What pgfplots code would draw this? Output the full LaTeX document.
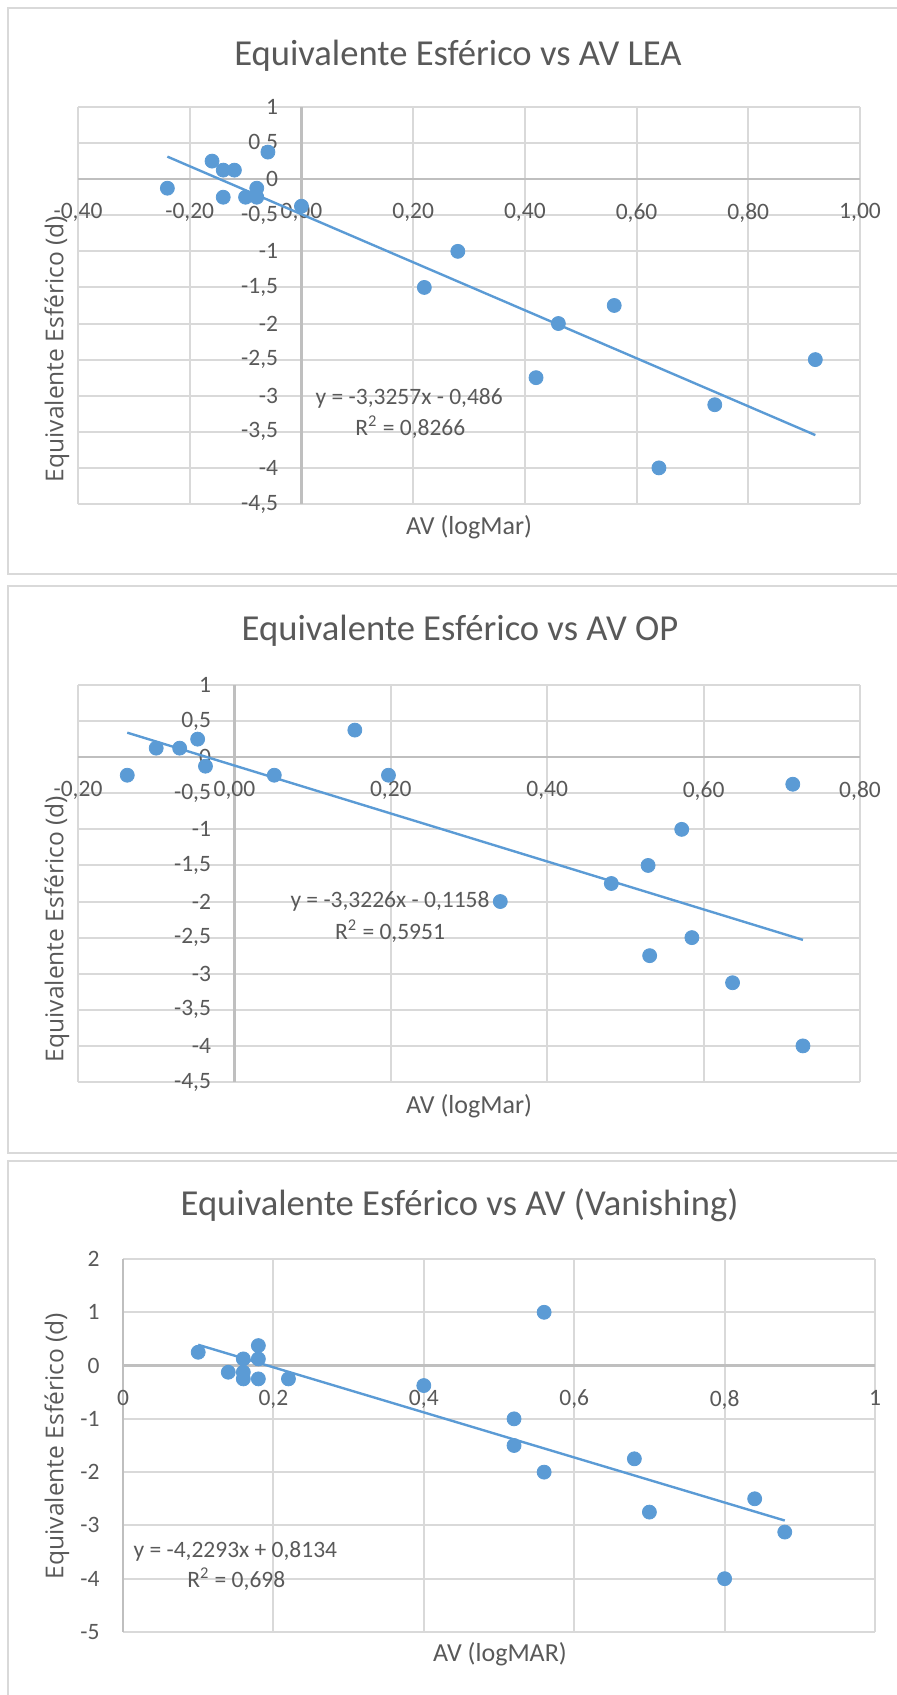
\documentclass[border=0pt]{standalone}
\usepackage{pgfplots}
\pgfplotsset{compat=1.18}
\usepackage{fontspec}
\setmainfont{Carlito}
\newfontfamily\ylabfont{Open Sans}

\definecolor{ptblue}{HTML}{5B9BD5}
\definecolor{txtgray}{HTML}{595959}
\definecolor{gridgray}{HTML}{D9D9D9}
\definecolor{axgray}{HTML}{BFBFBF}

% AV (logMAR) vs spherical equivalent (D), one table per chart
\pgfplotstableread{
x y
-0.24 -0.125
-0.16 0.25
-0.14 0.125
-0.12 0.125
-0.14 -0.25
-0.10 -0.25
-0.08 -0.125
-0.08 -0.25
-0.06 0.375
0.00 -0.375
0.22 -1.5
0.28 -1.0
0.42 -2.75
0.46 -2.0
0.56 -1.75
0.64 -4.0
0.74 -3.125
0.92 -2.5
}\lea

\pgfplotstableread{
x y
-0.137 -0.25
-0.100 0.125
-0.070 0.125
-0.047 0.25
-0.037 -0.125
0.051 -0.25
0.154 0.375
0.197 -0.25
0.340 -2.0
0.482 -1.75
0.529 -1.5
0.531 -2.75
0.572 -1.0
0.585 -2.5
0.637 -3.125
0.714 -0.375
0.727 -4.0
}\op

\pgfplotstableread{
x y
0.10 0.25
0.14 -0.125
0.16 0.125
0.16 -0.125
0.16 -0.25
0.18 0.375
0.18 0.125
0.18 -0.25
0.22 -0.25
0.40 -0.375
0.52 -1.0
0.52 -1.5
0.56 1.0
0.56 -2.0
0.68 -1.75
0.70 -2.75
0.80 -4.0
0.84 -2.5
0.88 -3.125
}\van

\pgfplotsset{
  excel/.style={
    scale only axis,
    axis lines=middle,
    axis line style={axgray, line width=1.1pt, -},
    grid=major,
    major grid style={gridgray, line width=1pt},
    major tick length=0pt,
    tick label style={font=\fontsize{11.75}{14}\selectfont, text=txtgray},
    xticklabel style={anchor=north, inner sep=0pt, yshift=-12pt},
    yticklabel style={anchor=east, inner sep=0pt, xshift=-11.5pt},
    hide obscured x ticks=false,
    hide obscured y ticks=false,
    clip=false,
  },
  pts/.style={only marks, mark=*, mark size=3.5pt,
    mark options={fill=ptblue, draw=ptblue}},
  trend/.style={no marks, ptblue, line width=1.2pt},
}
\tikzset{eqlab/.style={font=\fontsize{11.75}{14}\selectfont, text=txtgray}}

\newcommand{\charttitle}{\fontsize{18.3}{22}\selectfont}
\newcommand{\axlab}{\fontsize{13}{16}\selectfont}
\newcommand{\yaxlab}{\ylabfont\fontsize{12.3}{15}\selectfont}

\begin{document}
\begin{tikzpicture}
\useasboundingbox (0,0) rectangle (448pt,847.5pt);

% chart frames
\draw[gridgray, line width=1.25pt] (460pt,560.5pt) -- (4pt,560.5pt) -- (4pt,843.5pt) -- (460pt,843.5pt);
\draw[gridgray, line width=1.25pt] (460pt,271pt) -- (4pt,271pt) -- (4pt,554.5pt) -- (460pt,554.5pt);
\draw[gridgray, line width=1.25pt] (4pt,-5pt) -- (4pt,267pt) -- (460pt,267pt);

% ---------- LEA ----------
\begin{axis}[excel,
  at={(39pt,595.5pt)}, anchor=south west,
  width=391pt, height=198.5pt,
  xmin=-0.4, xmax=1.0, ymin=-4.5, ymax=1,
  xtick={-0.4,-0.2,0,0.2,0.4,0.6,0.8,1.0},
  xticklabels={{-0,40},{-0,20},{0,00},{0,20},{0,40},{0,60},{0,80},{1,00}},
  ytick={-4.5,-4,-3.5,-3,-2.5,-2,-1.5,-1,-0.5,0,0.5,1},
  yticklabels={{-4,5},{-4},{-3,5},{-3},{-2,5},{-2},{-1,5},{-1},{-0,5},{0},{0,5},{1}},
]
\addplot[pts] table[x=x,y=y] {\lea};
\addplot[trend] coordinates {(-0.24,0.3122) (0.92,-3.5456)};
\node[eqlab] at (axis cs:0.193,-3.04) {y = -3,3257x - 0,486};
\node[eqlab] at (axis cs:0.195,-3.44) {R\textsuperscript{2} = 0,8266};
\end{axis}

% ---------- OP ----------
\begin{axis}[excel,
  at={(39pt,306.5pt)}, anchor=south west,
  width=391pt, height=198.5pt,
  xmin=-0.2, xmax=0.8, ymin=-4.5, ymax=1,
  xtick={-0.2,0,0.2,0.4,0.6,0.8},
  xticklabels={{-0,20},{0,00},{0,20},{0,40},{0,60},{0,80}},
  ytick={-4.5,-4,-3.5,-3,-2.5,-2,-1.5,-1,-0.5,0,0.5,1},
  yticklabels={{-4,5},{-4},{-3,5},{-3},{-2,5},{-2},{-1,5},{-1},{-0,5},{0},{0,5},{1}},
]
\addplot[pts] table[x=x,y=y] {\op};
\addplot[trend] coordinates {(-0.137,0.3394) (0.727,-2.5313)};
\node[eqlab] at (axis cs:0.199,-2.0) {y = -3,3226x - 0,1158};
\node[eqlab] at (axis cs:0.199,-2.41) {R\textsuperscript{2} = 0,5951};
\end{axis}

% ---------- Vanishing ----------
\begin{axis}[excel,
  at={(61.5pt,31.5pt)}, anchor=south west,
  width=376pt, height=186.5pt,
  xmin=0, xmax=1, ymin=-5, ymax=2,
  xtick={0,0.2,0.4,0.6,0.8,1},
  xticklabels={{0},{0,2},{0,4},{0,6},{0,8},{1}},
  ytick={-5,-4,-3,-2,-1,0,1,2},
  yticklabels={{-5},{-4},{-3},{-2},{-1},{0},{1},{2}},
]
\addplot[pts] table[x=x,y=y] {\van};
\addplot[trend] coordinates {(0.10,0.3905) (0.88,-2.9084)};
\node[eqlab] at (axis cs:0.1494,-3.48) {y = -4,2293x + 0,8134};
\node[eqlab] at (axis cs:0.1506,-4.01) {R\textsuperscript{2} = 0,698};
\end{axis}

% titles and axis titles
\node[text=txtgray, font=\charttitle] at (229pt,819.5pt) {Equivalente Esférico vs AV LEA};
\node[text=txtgray, font=\charttitle] at (230pt,532pt) {Equivalente Esférico vs AV OP};
\node[text=txtgray, font=\charttitle] at (229.8pt,245pt) {Equivalente Esférico vs AV (Vanishing)};

\node[text=txtgray, font=\axlab] at (234.5pt,584pt) {AV (logMar)};
\node[text=txtgray, font=\axlab] at (234.5pt,294.5pt) {AV (logMar)};
\node[text=txtgray, font=\axlab] at (250pt,20.5pt) {AV (logMAR)};

\node[text=txtgray, font=\yaxlab, rotate=90] at (28.5pt,673pt) {Equivalente Esférico (d)};
\node[text=txtgray, font=\yaxlab, rotate=90] at (28.5pt,383pt) {Equivalente Esférico (d)};
\node[text=txtgray, font=\yaxlab, rotate=90] at (28.5pt,124.5pt) {Equivalente Esférico (d)};
\end{tikzpicture}
\end{document}
